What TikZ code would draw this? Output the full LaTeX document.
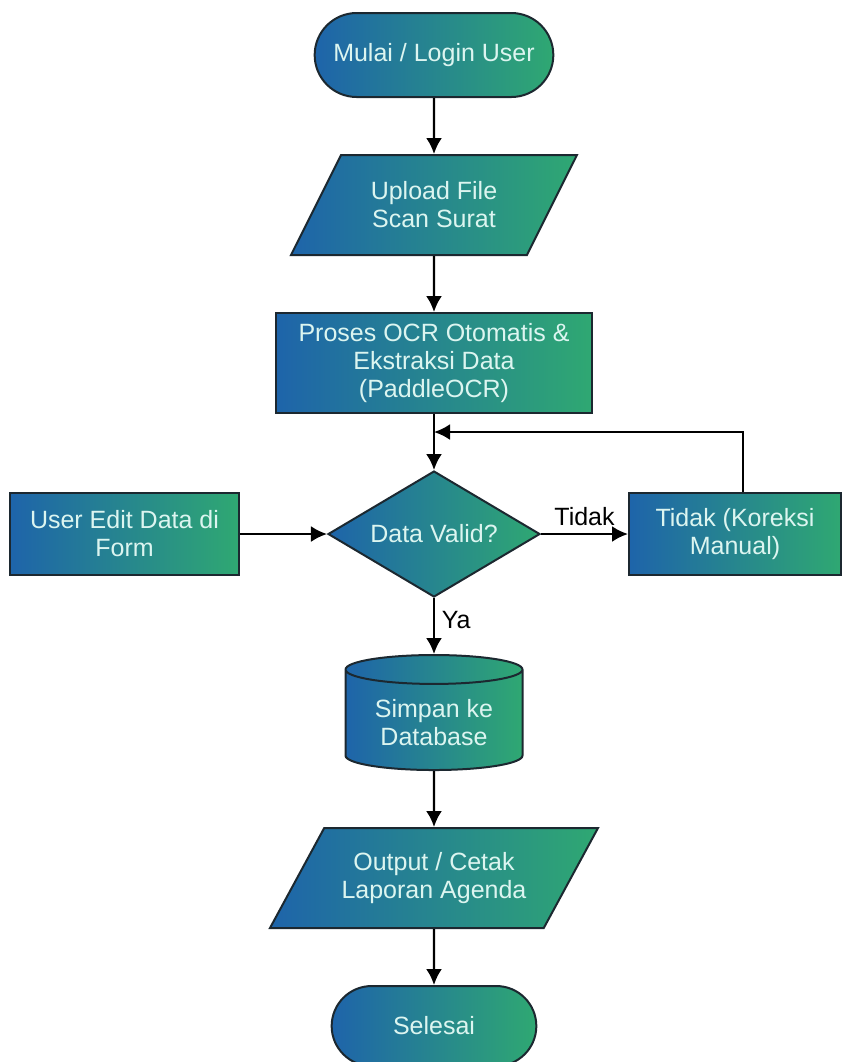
\documentclass[tikz,border=0pt]{standalone}
\usepackage{fontspec}
\setmainfont{Liberation Sans}
\usetikzlibrary{shapes.geometric, shapes.misc, positioning, arrows.meta}
\definecolor{flowblue}{RGB}{30,100,170}
\definecolor{flowgreen}{RGB}{47,168,114}
\definecolor{flowedge}{RGB}{28,40,48}
\definecolor{flowtext}{RGB}{220,245,240}
\tikzset{->, >={Latex[length=8pt, width=8pt]}, node distance = 28pt,
    every node/.style = {font=\fontsize{12.5}{14}\selectfont},
    box/.style = {draw=flowedge, line width=1pt, left color=flowblue,
        right color=flowgreen, text=flowtext, align=center},
    terminal/.style = {box, rounded rectangle, minimum height=42pt},
    io/.style = {box, trapezium, trapezium left angle=50,
        trapezium right angle=130, trapezium stretches body, minimum height=50pt},
    process/.style = {box, rectangle, minimum height=50pt},
    decision/.style = {box, diamond, aspect=1.7, inner sep=0pt,
        minimum width=106pt, minimum height=63pt},
    storage/.style = {box, cylinder, shape border rotate=90, aspect=0.22,
        minimum width=88.5pt, minimum height=57.5pt},
    line/.style = {line width=1.2pt, draw=black}}

\begin{document}
\begin{tikzpicture}
    \useasboundingbox (0,0) rectangle (423pt,-531pt);
    \node[terminal, minimum width=126pt] (mulai) at (217pt,-27.5pt) {Mulai / Login User};
    \node[io, minimum width=143pt, below=of mulai] (upload) {Upload File\\Scan Surat};
    \node[process, minimum width=158pt, below=of upload] (ocr) {Proses OCR Otomatis \&\\Ekstraksi Data\\(PaddleOCR)};
    \node[decision, below=of ocr] (valid) {Data Valid?};
    \node[process, minimum width=114.5pt, minimum height=41pt, left=43.5pt of valid] (edit) {User Edit Data di\\Form};
    \node[process, minimum width=106pt, minimum height=41pt, right=43.5pt of valid] (koreksi) {Tidak (Koreksi\\Manual)};
    \node[storage, below=of valid] (simpan) {Simpan ke\\Database};
    \node[io, minimum width=164pt, below=of simpan] (cetak) {Output / Cetak\\Laporan Agenda};
    \node[terminal, minimum width=109pt, minimum height=40pt, below=of cetak] (selesai) {Selesai};
    \coordinate[below=9pt of ocr] (join);
    \draw[line] (mulai) edge (upload)
          (upload) edge (ocr)
          (ocr) edge (valid)
          (edit) edge (valid)
          (valid) edge node[above] {Tidak} (koreksi)
          (valid) edge node[right, pos=0.4] {Ya} (simpan)
          (simpan) edge (cetak)
          (cetak) edge (selesai);
    \draw[line] ([xshift=4pt]koreksi.north) |- (join);
\end{tikzpicture}
\end{document}
